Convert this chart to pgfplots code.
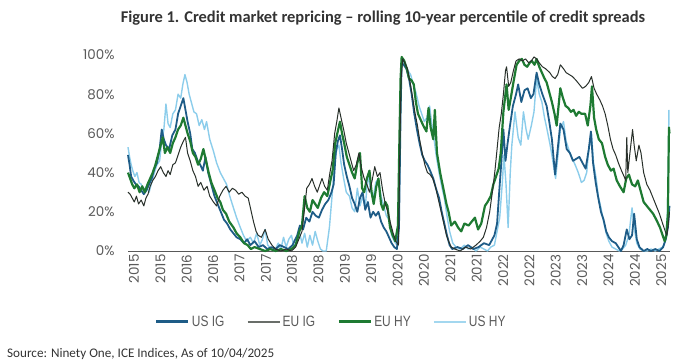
\documentclass[border=0pt]{standalone}
\usepackage{fontspec}
\usepackage{pgfplots}
\pgfplotsset{compat=1.18}
\setmainfont{Carlito}
\newfontfamily\tickfont{Poppins}
\newfontfamily\legfont[FakeStretch=0.8]{Liberation Sans}
\definecolor{usig}{RGB}{30,92,135}
\definecolor{euig}{RGB}{40,48,42}
\definecolor{euiglg}{RGB}{105,110,105}
\definecolor{euhy}{RGB}{30,122,50}
\definecolor{ushy}{RGB}{140,205,235}
\definecolor{txt}{RGB}{90,90,90}
\begin{document}
\begin{tikzpicture}
\useasboundingbox (0bp,0bp) rectangle (696bp,364bp);
\node[anchor=center,text=black!80] at (383bp,346bp) {\fontsize{16.5}{18}\selectfont\bfseries Figure 1. Credit market repricing -- rolling 10-year percentile of credit spreads};
\node[anchor=west,text=black!80,inner sep=0pt] at (7bp,10bp) {\fontsize{13.2}{15}\selectfont Source: Ninety One, ICE Indices, As of 10/04/2025};
\begin{axis}[
  at={(128bp,113bp)}, anchor=south west,
  width=542bp, height=196bp, scale only axis,
  xmin=2015, xmax=2025.28, ymin=0, ymax=100,
  clip=false,
  separate axis lines,
  axis x line*=bottom, axis y line*=left,
  y axis line style={draw=none},
  x axis line style={draw=black!65, line width=0.9bp, -},
  major tick length=0pt,
  xtick={2015,2015.5,...,2025},
  xticklabels={2015,2015,2016,2016,2017,2017,2018,2018,2019,2019,2020,2020,2021,2021,2022,2022,2023,2023,2024,2024,2025},
  ytick={0,20,40,60,80,100},
  yticklabels={0\%,20\%,40\%,60\%,80\%,100\%},
  xticklabel style={rotate=90, anchor=east, yshift=-6bp, font=\tickfont\fontsize{13.5}{14}\selectfont, text=txt},
  yticklabel style={anchor=east, xshift=-10bp, font=\tickfont\fontsize{13.5}{14}\selectfont, text=txt},
  legend columns=4,
  legend style={at={(0.375,-0.362)}, anchor=center, draw=none, fill=none, font=\legfont\fontsize{15}{16}\selectfont, text=txt,
    /tikz/every even column/.append style={column sep=20bp}},
  legend image code/.code={\draw[#1] (0bp,0bp) -- (32bp,0bp);},
  every axis plot/.append style={line join=round},
]
\addlegendimage{usig, line width=3bp}\addlegendentry{US IG}
\addlegendimage{euiglg, line width=2.2bp}\addlegendentry{EU IG}
\addlegendimage{euhy, line width=3bp}\addlegendentry{EU HY}
\addlegendimage{ushy!80, line width=2.2bp}\addlegendentry{US HY}

% US HY
\addplot[ushy, line width=1.4bp, forget plot] coordinates {
(2015.00,53)(2015.03,48)(2015.06,44)(2015.09,41)(2015.13,38)(2015.17,40)(2015.21,35)(2015.25,34)(2015.30,31)(2015.35,33)
(2015.40,30)(2015.45,35)(2015.50,40)(2015.55,44)(2015.60,46)(2015.64,56)(2015.68,62)(2015.72,75)(2015.76,65)(2015.80,63)
(2015.85,70)(2015.90,72)(2015.95,80)(2016.00,78)(2016.04,85)(2016.08,90)(2016.12,86)(2016.16,80)(2016.20,76)(2016.25,71)
(2016.30,70)(2016.35,64)(2016.40,67)(2016.45,62)(2016.49,66)(2016.55,57)(2016.62,51)(2016.68,45)(2016.75,40)(2016.81,37)
(2016.87,34)(2016.93,28)(2017.00,22)(2017.06,17)(2017.13,12)(2017.19,8)(2017.25,5)(2017.32,7)(2017.38,4)(2017.44,9)
(2017.50,3)(2017.55,6)(2017.60,11)(2017.65,3)(2017.72,1)(2017.78,0)(2017.85,4)(2017.90,1)(2017.95,7)(2018.00,2)
(2018.05,6)(2018.10,8)(2018.15,2)(2018.20,5)(2018.25,10)(2018.30,4)(2018.35,9)(2018.40,2)(2018.45,8)(2018.50,3)
(2018.55,10)(2018.60,5)(2018.65,1)(2018.70,0)(2018.76,0)(2018.82,12)(2018.87,28)(2018.92,45)(2018.96,52)(2019.00,54)
(2019.04,45)(2019.09,37)(2019.14,30)(2019.20,28)(2019.25,22)(2019.30,20)(2019.35,32)(2019.40,23)(2019.45,28)(2019.50,22)
(2019.55,39)(2019.60,31)(2019.65,27)(2019.70,35)(2019.75,37)(2019.80,28)(2019.85,23)(2019.90,18)(2019.95,16)(2020.00,8)
(2020.05,5)(2020.10,3)(2020.14,20)(2020.17,75)(2020.19,98)(2020.22,97)(2020.26,95)(2020.31,92)(2020.36,90)(2020.41,85)
(2020.46,81)(2020.52,74)(2020.57,70)(2020.62,66)(2020.67,68)(2020.72,74)(2020.77,63)(2020.81,56)(2020.85,48)(2020.90,40)
(2020.95,33)(2021.00,27)(2021.05,18)(2021.10,10)(2021.16,4)(2021.22,2)(2021.30,1)(2021.38,3)(2021.45,1)(2021.52,2)
(2021.60,0)(2021.68,2)(2021.75,1)(2021.82,0)(2021.88,2)(2021.95,3)(2022.00,10)(2022.05,17)(2022.10,35)(2022.13,49)
(2022.17,34)(2022.21,12)(2022.25,40)(2022.28,54)(2022.34,71)(2022.40,58)(2022.45,54)(2022.50,71)(2022.55,62)(2022.59,57)
(2022.65,64)(2022.70,71)(2022.75,88)(2022.80,80)(2022.85,76)(2022.90,68)(2022.94,63)(2023.00,55)(2023.04,49)(2023.08,42)
(2023.11,37)(2023.16,50)(2023.20,62)(2023.26,66)(2023.31,56)(2023.37,51)(2023.43,47)(2023.48,44)(2023.54,40)(2023.60,35)
(2023.65,36)(2023.70,40)(2023.74,52)(2023.79,60)(2023.83,45)(2023.88,37)(2023.92,28)(2023.97,22)(2024.02,15)(2024.07,9)
(2024.12,5)(2024.18,2)(2024.25,1)(2024.32,0)(2024.38,1)(2024.44,3)(2024.50,8)(2024.56,22)(2024.60,12)(2024.65,4)
(2024.71,1)(2024.78,0)(2024.85,0)(2024.92,1)(2025.00,0)(2025.07,1)(2025.14,2)(2025.19,5)(2025.23,18)(2025.25,45)(2025.26,72)
};
% US IG
\addplot[usig, line width=1.8bp, forget plot] coordinates {
(2015.00,49)(2015.03,44)(2015.06,38)(2015.10,36)(2015.15,34)(2015.20,33)(2015.25,31)(2015.30,29)(2015.35,31)(2015.40,34)
(2015.45,37)(2015.50,42)(2015.55,45)(2015.60,52)(2015.64,62)(2015.68,57)(2015.72,54)(2015.78,52)(2015.84,59)(2015.90,62)
(2015.95,70)(2016.00,74)(2016.05,78)(2016.09,72)(2016.13,66)(2016.18,60)(2016.22,52)(2016.27,50)(2016.32,46)(2016.37,44)
(2016.42,41)(2016.47,48)(2016.52,40)(2016.58,34)(2016.64,28)(2016.70,24)(2016.76,20)(2016.82,16)(2016.88,14)(2016.94,11)
(2017.00,9)(2017.06,7)(2017.13,6)(2017.20,4)(2017.26,6)(2017.32,3)(2017.40,5)(2017.48,2)(2017.56,3)(2017.64,1)
(2017.72,2)(2017.80,1)(2017.88,3)(2017.96,2)(2018.04,1)(2018.12,3)(2018.21,8)(2018.26,13)(2018.32,11)(2018.38,17)
(2018.44,15)(2018.50,20)(2018.56,18)(2018.62,17)(2018.68,21)(2018.74,24)(2018.80,26)(2018.86,30)(2018.90,34)(2018.94,50)
(2018.98,56)(2019.02,59)(2019.06,52)(2019.10,44)(2019.15,38)(2019.20,33)(2019.25,27)(2019.30,24)(2019.35,20)(2019.40,27)
(2019.45,30)(2019.50,21)(2019.55,25)(2019.60,17)(2019.65,20)(2019.70,18)(2019.75,20)(2019.80,15)(2019.85,12)(2019.90,10)
(2019.95,7)(2020.00,4)(2020.05,2)(2020.10,1)(2020.14,12)(2020.17,70)(2020.19,96)(2020.23,95)(2020.28,93)(2020.33,88)
(2020.38,80)(2020.43,70)(2020.48,62)(2020.53,55)(2020.58,49)(2020.63,46)(2020.68,44)(2020.73,41)(2020.79,37)(2020.84,32)
(2020.90,27)(2020.95,20)(2021.00,14)(2021.05,8)(2021.10,3)(2021.15,1)(2021.25,2)(2021.35,1)(2021.45,3)(2021.55,1)
(2021.65,2)(2021.75,4)(2021.85,3)(2021.95,8)(2022.00,14)(2022.04,30)(2022.08,45)(2022.12,62)(2022.16,46)(2022.20,55)
(2022.24,63)(2022.30,74)(2022.36,80)(2022.40,85)(2022.46,76)(2022.52,82)(2022.58,83)(2022.64,78)(2022.69,80)(2022.75,91)
(2022.80,85)(2022.86,80)(2022.94,74)(2022.99,66)(2023.04,57)(2023.08,45)(2023.10,39)(2023.15,52)(2023.20,65)(2023.26,62)
(2023.32,52)(2023.38,50)(2023.44,46)(2023.50,47)(2023.56,48)(2023.62,45)(2023.68,42)(2023.74,52)(2023.78,61)(2023.82,45)
(2023.87,35)(2023.92,27)(2023.97,20)(2024.02,16)(2024.07,10)(2024.12,7)(2024.18,5)(2024.25,4)(2024.30,2)(2024.35,0)
(2024.40,3)(2024.46,11)(2024.51,6)(2024.56,8)(2024.60,19)(2024.65,6)(2024.70,2)(2024.78,0)(2024.85,1)(2024.92,0)
(2025.00,1)(2025.08,0)(2025.15,2)(2025.20,6)(2025.24,12)(2025.27,23)
};
% EU HY
\addplot[euhy, line width=2.2bp, forget plot] coordinates {
(2015.00,40)(2015.04,37)(2015.08,34)(2015.12,32)(2015.17,34)(2015.22,30)(2015.27,33)(2015.32,30)(2015.37,34)(2015.42,37)
(2015.47,40)(2015.52,44)(2015.57,49)(2015.62,54)(2015.66,58)(2015.70,50)(2015.75,53)(2015.80,50)(2015.85,55)(2015.90,58)
(2015.95,62)(2016.00,64)(2016.05,68)(2016.09,64)(2016.13,60)(2016.18,56)(2016.23,50)(2016.28,48)(2016.33,44)(2016.38,47)
(2016.43,52)(2016.48,46)(2016.53,40)(2016.58,35)(2016.64,31)(2016.70,27)(2016.75,25)(2016.80,21)(2016.86,19)(2016.92,15)
(2017.00,12)(2017.06,9)(2017.13,7)(2017.20,4)(2017.27,3)(2017.33,1)(2017.40,2)(2017.50,1)(2017.60,0)(2017.70,1)
(2017.80,0)(2017.90,1)(2018.00,0)(2018.10,1)(2018.18,3)(2018.25,10)(2018.30,13)(2018.35,28)(2018.40,22)(2018.45,20)
(2018.50,26)(2018.55,24)(2018.60,22)(2018.66,27)(2018.72,30)(2018.78,28)(2018.84,36)(2018.88,41)(2018.93,55)(2018.97,60)
(2019.02,66)(2019.06,60)(2019.10,55)(2019.15,48)(2019.20,44)(2019.25,40)(2019.30,37)(2019.35,45)(2019.40,50)(2019.44,32)
(2019.48,30)(2019.53,37)(2019.58,41)(2019.62,30)(2019.66,24)(2019.71,33)(2019.75,37)(2019.80,24)(2019.84,21)(2019.88,25)
(2019.92,23)(2019.97,12)(2020.02,8)(2020.07,5)(2020.12,13)(2020.15,60)(2020.17,88)(2020.19,99)(2020.24,97)(2020.29,93)
(2020.33,88)(2020.38,87)(2020.42,85)(2020.46,76)(2020.50,70)(2020.55,67)(2020.60,64)(2020.66,61)(2020.70,73)(2020.74,63)
(2020.79,57)(2020.82,72)(2020.86,50)(2020.92,40)(2020.98,32)(2021.04,24)(2021.08,20)(2021.13,13)(2021.20,15)(2021.26,12)
(2021.32,10)(2021.38,14)(2021.46,13)(2021.52,15)(2021.58,17)(2021.64,11)(2021.70,14)(2021.77,23)(2021.82,25)(2021.88,28)
(2021.93,34)(2021.98,38)(2022.03,42)(2022.07,50)(2022.12,71)(2022.15,78)(2022.18,85)(2022.22,72)(2022.26,78)(2022.31,86)
(2022.37,95)(2022.42,97)(2022.47,98)(2022.52,95)(2022.57,94)(2022.62,96)(2022.66,97)(2022.71,95)(2022.75,98)(2022.80,94)
(2022.85,91)(2022.90,88)(2022.94,86)(2022.99,81)(2023.04,76)(2023.09,70)(2023.13,64)(2023.17,75)(2023.20,83)(2023.25,78)
(2023.30,74)(2023.35,73)(2023.40,71)(2023.45,72)(2023.50,69)(2023.55,71)(2023.60,70)(2023.67,70)(2023.72,64)(2023.77,74)
(2023.80,84)(2023.84,68)(2023.88,62)(2023.93,57)(2023.99,55)(2024.05,48)(2024.10,44)(2024.16,41)(2024.21,42)(2024.27,36)
(2024.33,33)(2024.40,30)(2024.45,37)(2024.50,39)(2024.56,34)(2024.62,33)(2024.67,36)(2024.72,31)(2024.78,25)(2024.84,23)
(2024.90,21)(2024.96,19)(2025.02,16)(2025.09,12)(2025.14,8)(2025.18,5)(2025.21,8)(2025.24,19)(2025.26,63)(2025.27,60)
};
% EU IG
\addplot[euig, line width=1.0bp, forget plot] coordinates {
(2015.00,30)(2015.04,29)(2015.08,27)(2015.12,25)(2015.16,28)(2015.20,24)(2015.25,26)(2015.30,23)(2015.34,27)(2015.38,29)
(2015.42,33)(2015.47,36)(2015.52,38)(2015.57,41)(2015.62,43)(2015.67,40)(2015.72,38)(2015.76,41)(2015.80,39)(2015.85,44)
(2015.90,45)(2015.95,49)(2016.00,53)(2016.05,56)(2016.09,58)(2016.13,50)(2016.18,46)(2016.23,41)(2016.28,38)(2016.33,33)
(2016.38,35)(2016.44,31)(2016.50,33)(2016.55,28)(2016.62,25)(2016.68,23)(2016.74,28)(2016.80,31)(2016.86,33)(2016.92,30)
(2016.98,32)(2017.04,31)(2017.10,29)(2017.16,30)(2017.22,28)(2017.28,27)(2017.33,21)(2017.38,15)(2017.43,10)(2017.47,8)
(2017.53,7)(2017.60,11)(2017.66,6)(2017.73,3)(2017.80,1)(2017.90,0)(2018.00,1)(2018.10,0)(2018.18,2)(2018.24,6)
(2018.30,10)(2018.35,22)(2018.39,32)(2018.44,34)(2018.49,37)(2018.54,33)(2018.59,30)(2018.64,34)(2018.68,37)(2018.73,33)
(2018.78,31)(2018.83,40)(2018.87,46)(2018.92,60)(2018.96,66)(2019.00,73)(2019.04,68)(2019.09,62)(2019.14,55)(2019.18,51)
(2019.23,46)(2019.28,41)(2019.33,44)(2019.38,50)(2019.43,42)(2019.48,37)(2019.53,34)(2019.58,30)(2019.63,36)(2019.68,43)
(2019.73,38)(2019.78,40)(2019.83,31)(2019.88,24)(2019.93,20)(2019.98,14)(2020.03,9)(2020.08,5)(2020.13,3)(2020.16,60)
(2020.18,88)(2020.21,98)(2020.25,96)(2020.30,93)(2020.35,86)(2020.40,78)(2020.44,71)(2020.49,64)(2020.53,57)(2020.58,50)
(2020.63,44)(2020.68,40)(2020.73,39)(2020.78,37)(2020.83,33)(2020.88,27)(2020.94,20)(2020.99,14)(2021.04,8)(2021.08,5)
(2021.13,2)(2021.20,1)(2021.30,0)(2021.40,2)(2021.50,1)(2021.60,3)(2021.68,5)(2021.74,7)(2021.80,12)(2021.86,20)
(2021.92,32)(2021.96,41)(2022.00,52)(2022.04,63)(2022.08,70)(2022.12,80)(2022.16,92)(2022.18,94)(2022.22,84)(2022.26,86)
(2022.31,92)(2022.36,97)(2022.42,98)(2022.48,97)(2022.54,98)(2022.60,96)(2022.65,97)(2022.70,99)(2022.75,98)(2022.80,96)
(2022.86,94)(2022.92,93)(2023.00,91)(2023.05,89)(2023.10,88)(2023.15,90)(2023.20,95)(2023.26,93)(2023.31,91)(2023.37,90)
(2023.43,89)(2023.50,87)(2023.56,85)(2023.62,83)(2023.68,84)(2023.74,86)(2023.79,89)(2023.84,83)(2023.89,80)(2023.95,77)
(2024.00,74)(2024.05,70)(2024.10,64)(2024.15,57)(2024.20,52)(2024.25,49)(2024.30,45)(2024.36,41)(2024.41,38)(2024.44,36)
(2024.46,58)(2024.48,40)(2024.52,50)(2024.57,62)(2024.60,54)(2024.64,46)(2024.69,54)(2024.73,50)(2024.78,40)(2024.84,34)
(2024.90,31)(2024.96,27)(2025.02,23)(2025.08,19)(2025.14,14)(2025.19,10)(2025.22,8)(2025.25,14)(2025.27,20)
};
\end{axis}
\end{tikzpicture}
\end{document}
